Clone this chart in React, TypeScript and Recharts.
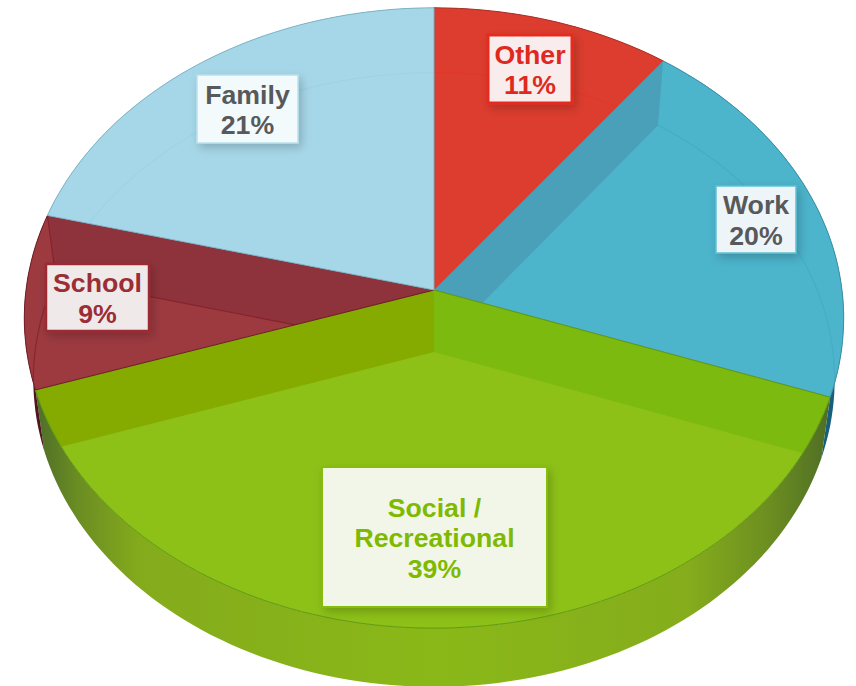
import { PieChart, Pie } from 'recharts';

const CATEGORIES = ['Other', 'Work', 'Social / Recreational', 'School', 'Family'];
const VALUES = [11, 20, 39, 9, 21];
const LABEL_LINES = [['Other', '11%'], ['Work', '20%'], ['Social /', 'Recreational', '39%'], ['School', '9%'], ['Family', '21%']];

const FACE_COLORS = ['#dc3d2e', '#4cb4cb', '#8dc118', '#9c3a40', '#a6d7e8'];
const EDGE_COLORS = ['#a8322a', '#3f8ea5', '#5f9a10', '#6f1f28', '#7fb4c8'];
const FLOOR_LINES = ['#e2372b', '#45adc5', '#8dc118', '#8a2530', '#9ed2e4'];
const RIM_FILLS = ['#9c2a22', '#16607e', 'url(#rimGreen)', '#4f161c', '#6fa6ba'];
// inner wall colours on the clockwise start / end side of each slice
const WALL_START = [null, '#4a9fb9', '#7cba10', null, null];
const WALL_END = [null, null, '#86ab00', '#8e333b', null];

const LABEL_BOXES = [
  { x: 488, y: 35, w: 84, h: 68 },
  { x: 716, y: 186, w: 80, h: 67 },
  { x: 322, y: 467, w: 225, h: 140 },
  { x: 46, y: 264, w: 103, h: 67 },
  { x: 197, y: 75, w: 101, h: 68 },
];
const LABEL_FILLS = ['#f9ecec', '#edf5f8', '#f2f6e8', '#f0e9ea', '#f3fafc'];
const LABEL_BORDERS = ['#e62a1e', '#5fc0d5', '#85bd10', '#9c2a33', '#b8e0ee'];
const LABEL_BORDER_WIDTHS = [3, 1.5, 2, 2.5, 1.5];
const LABEL_TEXT = ['#e0291e', '#58595b', '#7fba00', '#9b2d35', '#58595b'];

const WIDTH = 856;
const HEIGHT = 686;
const CX = 434;
const CY = 290;
const RADIUS = 408;
const SQUASH = 0.754; // vertical size of the disc against its width
const TILT = 0.0903; // far side looks smaller than the near side
const DEPTH = 62;

const chartData = CATEGORIES.map((name, i) => ({ name, value: VALUES[i] }));

// recharts angle (degrees, 90 = top, going down clockwise) to a point on the tilted disc
function project(deg: number, floor = false) {
  const cw = ((90 - deg) % 360 + 360) % 360;
  const nudge = cw < 1e-6 || cw > 359.999 ? 0 : 3 * Math.max(0, 1 - cw / 290) * Math.min(1, cw / 20);
  const rad = ((90 - (cw - nudge)) * Math.PI) / 180;
  const u = Math.cos(rad);
  const v = Math.sin(rad);
  const den = 1 + TILT * v;
  const xs = floor ? 0.978 : 1;
  const ys = floor ? 0.99 : 1;
  return {
    x: CX + (u * RADIUS * xs) / den,
    y: CY + (floor ? DEPTH : 0) - (v * RADIUS * SQUASH * ys) / den,
  };
}

function arc(start: number, end: number, floor = false) {
  const steps = Math.max(2, Math.ceil(Math.abs(end - start) / 1.5));
  const pts = [];
  for (let i = 0; i <= steps; i++) pts.push(project(start + ((end - start) * i) / steps, floor));
  return pts;
}

const toPath = (pts: { x: number; y: number }[], close = true) =>
  pts.map((p, i) => `${i === 0 ? 'M' : 'L'}${p.x.toFixed(1)},${p.y.toFixed(1)}`).join(' ') + (close ? ' Z' : '');

function RimSector(props: any) {
  const i = CATEGORIES.indexOf(props.name);
  const pts = [...arc(props.startAngle, props.endAngle), ...arc(props.startAngle, props.endAngle, true).reverse()];
  return <path d={toPath(pts)} fill={RIM_FILLS[i]} stroke="none" />;
}

function wall(deg: number) {
  const apex = { x: CX, y: CY };
  const lowApex = { x: CX, y: CY + DEPTH };
  return toPath([apex, project(deg), project(deg, true), lowApex]);
}

function FaceSector(props: any) {
  const i = CATEGORIES.indexOf(props.name);
  const { startAngle, endAngle } = props;
  const face = toPath([{ x: CX, y: CY }, ...arc(startAngle, endAngle)]);
  const clipId = `face-${i}`;
  return (
    <g>
      <clipPath id={clipId}>
        <path d={face} />
      </clipPath>
      <path d={face} fill={FACE_COLORS[i]} />
      <g clipPath={`url(#${clipId})`}>
        <path d={toPath(arc(startAngle, endAngle, true), false)} fill="none" stroke={FLOOR_LINES[i]} strokeWidth={1.2} />
        {WALL_START[i] && <path d={wall(startAngle)} fill={WALL_START[i]!} />}
        {WALL_END[i] && <path d={wall(endAngle)} fill={WALL_END[i]!} stroke={i === 3 ? '#86222c' : 'none'} strokeWidth={1.2} />}
      </g>
      <path d={face} fill="none" stroke={EDGE_COLORS[i]} strokeWidth={1} />
    </g>
  );
}

function LabelBox(props: any) {
  const i = CATEGORIES.indexOf(props.name);
  const box = LABEL_BOXES[i];
  const lines = LABEL_LINES[i];
  const lineHeight = 30.5;
  const firstBaseline = box.y + box.h / 2 - ((lines.length - 1) * lineHeight) / 2 + 10;
  return (
    <g>
      <rect
        x={box.x}
        y={box.y}
        width={box.w}
        height={box.h}
        fill={LABEL_FILLS[i]}
        stroke={LABEL_BORDERS[i]}
        strokeWidth={LABEL_BORDER_WIDTHS[i]}
        filter="url(#labelShadow)"
      />
      <text textAnchor="middle" fontFamily="'Liberation Sans', Arial, sans-serif" fontWeight={700} fontSize={26.7} fill={LABEL_TEXT[i]}>
        {lines.map((line, k) => (
          <tspan key={line} x={box.x + box.w / 2} y={firstBaseline + k * lineHeight}>
            {line}
          </tspan>
        ))}
      </text>
    </g>
  );
}

export default function App() {
  return (
    <div style={{ position: 'absolute', left: 0, top: 0, width: WIDTH, height: HEIGHT, background: '#fff' }}>
      <PieChart width={WIDTH} height={HEIGHT} margin={{ top: 0, right: 0, bottom: 0, left: 0 }}>
        <defs>
          <linearGradient id="rimGreen" gradientUnits="userSpaceOnUse" x1="37" y1="0" x2="830" y2="0">
            <stop offset="0" stopColor="#4f6f28" />
            <stop offset="0.05" stopColor="#6a8c22" />
            <stop offset="0.13" stopColor="#84ab1c" />
            <stop offset="0.5" stopColor="#8ab818" />
            <stop offset="0.82" stopColor="#85ad1c" />
            <stop offset="0.92" stopColor="#6d8f20" />
            <stop offset="1" stopColor="#4f6e25" />
          </linearGradient>
          <filter id="labelShadow" x="-20%" y="-20%" width="150%" height="150%">
            <feDropShadow dx="3" dy="4" stdDeviation="5" floodColor="#000" floodOpacity="0.2" />
          </filter>
        </defs>
        <Pie
          data={chartData}
          dataKey="value"
          nameKey="name"
          cx={CX}
          cy={CY}
          outerRadius={RADIUS}
          startAngle={90}
          endAngle={-270}
          stroke="none"
          shape={RimSector}
          isAnimationActive={false}
        />
        <Pie
          data={chartData}
          dataKey="value"
          nameKey="name"
          cx={CX}
          cy={CY}
          outerRadius={RADIUS}
          startAngle={90}
          endAngle={-270}
          stroke="none"
          shape={FaceSector}
          label={LabelBox}
          labelLine={false}
          isAnimationActive={false}
        />
      </PieChart>
    </div>
  );
}
